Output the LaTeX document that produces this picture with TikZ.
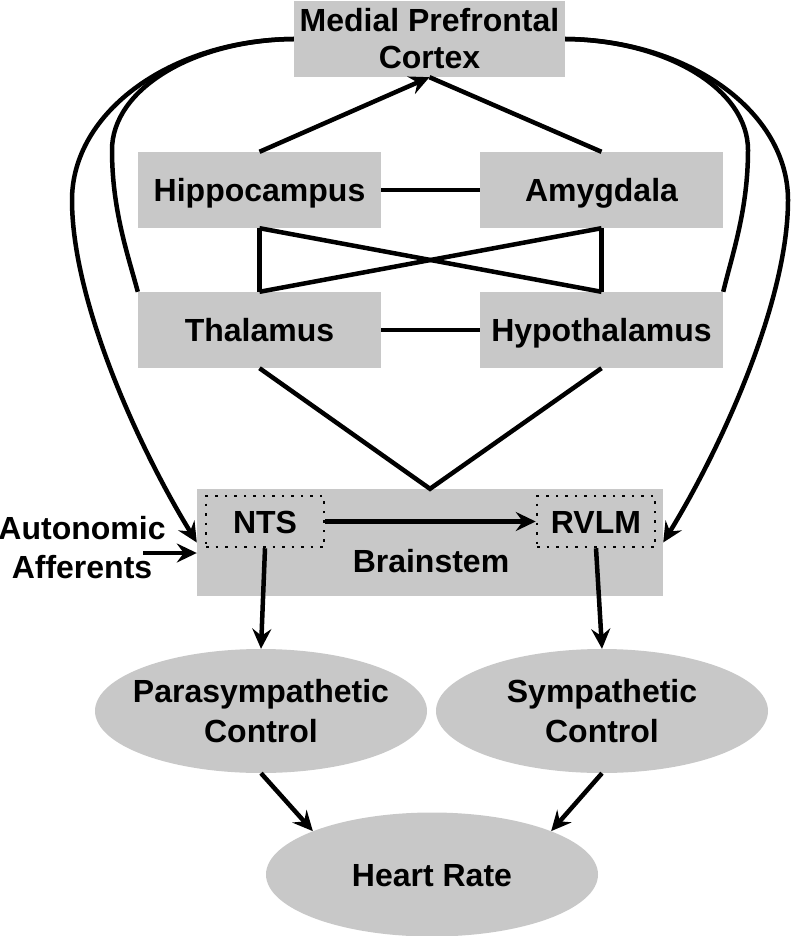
\documentclass[tikz,border=0pt]{standalone}
\usepackage{fontspec}
\setmainfont{Liberation Sans}
\usetikzlibrary{arrows.meta,shapes.geometric}
\definecolor{boxgray}{RGB}{200,200,200}

\begin{document}
\begin{tikzpicture}[x=1pt,y=-1pt,
  every text node part/.style={align=center},
  every node/.style={inner sep=0pt,font=\fontsize{32}{37}\selectfont\bfseries},
  oneline/.style={text height=23pt,text depth=0pt},
  brainbox/.style={fill=boxgray,minimum width=243pt,minimum height=76pt},
  nucleus/.style={draw,oneline,line width=2.5pt,dash pattern=on 2.5pt off 7pt,minimum width=118pt,minimum height=51pt},
  effector/.style={ellipse,fill=boxgray,inner xsep=-40pt,minimum width=332pt,minimum height=124pt,
    font=\fontsize{32}{40}\selectfont\bfseries},
  wire/.style={line width=4.5pt},
  feed/.style={line width=4.5pt,-{Stealth[length=20pt,width=19pt,inset=7pt]}}]
\useasboundingbox (0,0) rectangle (796,936);
% boxes
\node[brainbox,minimum width=271pt] (mpfc) at (429.5,39) {Medial Prefrontal\\Cortex};
\node[brainbox,oneline] (hip) at (259.5,190) {Hippocampus};
\node[brainbox,oneline] (amy) at (601.5,190) {Amygdala};
\node[brainbox,oneline] (thal) at (259.5,330) {Thalamus};
\node[brainbox,oneline] (hyp) at (601.5,330) {Hypothalamus};
\node[brainbox,minimum width=466pt,minimum height=107pt] (bs) at (430,542.5) {};
\node[oneline] (bslabel) at (431,560.5) {Brainstem};
\node[nucleus] (nts) at (265,521.5) {NTS};
\node[nucleus] (rvlm) at (596,521.5) {RVLM};
\node[font=\fontsize{32}{39}\selectfont\bfseries] (aff) at (82,548) {Autonomic\\Afferents};
\coordinate (affin) at (143,553);
% ellipses
\node[effector] (para) at (261,711) {Parasympathetic\\Control};
\node[effector] (symp) at (602,711) {Sympathetic\\Control};
\node[effector,oneline] (hr) at (432,874.5) {Heart Rate};
% limbic links
\draw[feed] (hip.north) -- (mpfc.south);
\draw[wire] (amy.north) -- (mpfc.south);
\draw[wire] (hip.east) -- (amy.west);
\draw[wire] (thal.east) -- (hyp.west);
\draw[wire] (hip.south) -- (thal.north);
\draw[wire] (amy.south) -- (hyp.north);
\draw[wire] (hip.south) -- (hyp.north);
\draw[wire] (amy.south) -- (thal.north);
\draw[wire] (thal.south) -- (bs.north) -- (hyp.south);
% brainstem and outputs
\draw[feed] (nts.east) -- (rvlm.west);
\draw[feed] (affin) -- (affin -| bs.west);
\draw[feed] (nts.south) -- (para.north);
\draw[feed] (rvlm.south) -- (symp.north);
\draw[feed] (para.south) -- (hr.160);
\draw[feed] (symp.south) -- (hr.20);
% long loops
\draw[feed] (mpfc.west) .. controls (171,40) and (72,112) .. (72,200)
  .. controls (72,300) and (137,445) .. (bs.west);
\draw[wire] (mpfc.west) .. controls (194,40) and (112,89) .. (112,150)
  .. controls (112,210) and (128,255) .. (thal.north west);
\draw[feed] (mpfc.east) .. controls (689,40) and (788,112) .. (788,200)
  .. controls (788,300) and (723,445) .. (bs.east);
\draw[wire] (mpfc.east) .. controls (666,40) and (748,89) .. (748,150)
  .. controls (748,210) and (732,255) .. (hyp.north east);
\end{tikzpicture}
\end{document}
